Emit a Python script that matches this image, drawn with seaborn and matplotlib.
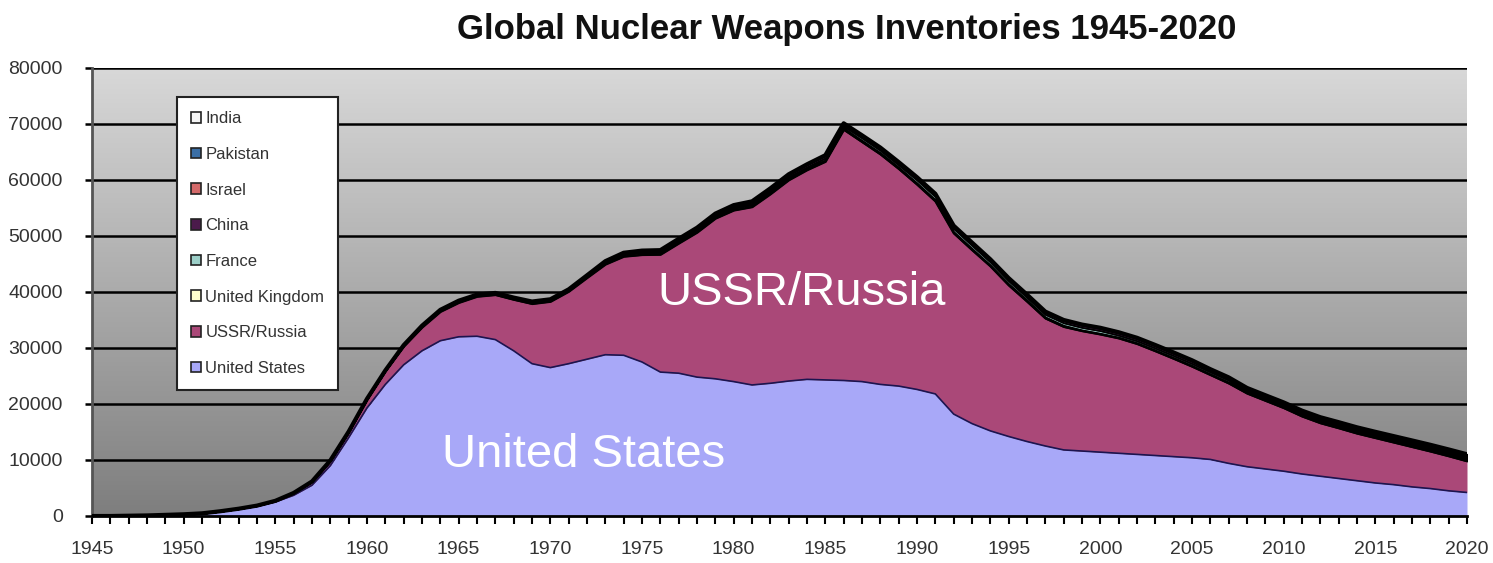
import numpy as np
import matplotlib
matplotlib.use("Agg")
import matplotlib.pyplot as plt
from matplotlib.patches import Patch
import seaborn as sns

years = list(range(1945, 2021))

us = [0, 0, 50, 100, 200, 300, 450, 800, 1200, 1700,
      2500, 3700, 5500, 9000, 14000, 19300, 23500, 27000, 29500, 31300,
      32000, 32100, 31500, 29500, 27200, 26500, 27200, 28000, 28800, 28700,
      27500, 25700, 25500, 24800, 24500, 24000, 23400, 23700, 24100, 24400,
      24300, 24200, 24000, 23500, 23200, 22600, 21800, 18200, 16500, 15200,
      14200, 13300, 12500, 11800, 11600, 11400, 11200, 11000, 10800, 10600,
      10400, 10100, 9400, 8800, 8400, 8000, 7500, 7100, 6700, 6300,
      5900, 5600, 5200, 4900, 4500, 4200]

ussr = [0, 0, 0, 0, 0, 5, 25, 50, 100, 150,
        200, 400, 650, 900, 1050, 1600, 2450, 3300, 4200, 5200,
        6100, 7100, 8000, 9150, 10700, 11800, 12900, 14550, 16150, 17650,
        19150, 21000, 23200, 25850, 28650, 30600, 31800, 33800, 35900, 37400,
        39000, 44800, 42800, 41100, 38800, 36600, 34400, 32300, 31000, 29400,
        27000, 25000, 22800, 22000, 21450, 21050, 20550, 19750, 18650, 17500,
        16300, 15100, 14300, 13100, 12200, 11300, 10300, 9500, 9000, 8450,
        8050, 7550, 7150, 6650, 6200, 5600]

uk = [0] * 8 + [1, 5, 10, 15, 20, 22, 25, 30, 50, 205,
                280, 310, 310, 270, 270, 280, 308, 280, 220, 220,
                275, 325, 350, 350, 350, 350, 350, 350, 350, 335,
                320, 270, 300, 300, 300, 300, 300, 300, 300, 300,
                300, 250, 300, 300, 260, 260, 185, 185, 200, 200,
                200, 200, 200, 200, 225, 225, 225, 225, 225, 225,
                225, 225, 215, 215, 215, 215, 215, 215]

france = [0] * 19 + [4, 32, 36, 36, 36, 36, 36, 45, 70, 116,
                     145, 188, 212, 228, 235, 235, 250, 274, 274, 279,
                     280, 360, 355, 420, 411, 412, 504, 538, 540, 525,
                     510, 500, 450, 450, 450, 450, 470, 350, 350, 350,
                     350, 350, 350, 350, 300, 300, 300, 300, 300, 300,
                     300, 300, 300, 300, 300, 290, 290]

china = [0] * 19 + [1, 5, 20, 25, 35, 50, 75, 100, 130, 150,
                    170, 185, 190, 200, 220, 235, 280, 330, 360, 380,
                    414, 426, 423, 415, 430, 434, 432, 434, 434, 434,
                    400, 400, 400, 400, 400, 400, 400, 400, 400, 400,
                    400, 400, 300, 300, 250, 240, 240, 240, 250, 250,
                    260, 260, 270, 280, 290, 300, 320]

israel = [0] * 22 + [2, 4, 6, 8, 10, 12, 14, 16, 18, 20,
                     22, 24, 27, 31, 33, 35, 38, 40, 42, 44,
                     46, 48, 50, 53, 55, 57, 59, 61, 62, 63,
                     65, 67, 70, 71, 72, 74, 76, 78, 80, 80,
                     80, 80, 80, 80, 80, 80, 80, 80, 80, 80,
                     80, 80, 90, 90]

pakistan = [0] * 41 + [1, 2, 3, 4, 5, 6, 7, 8, 9, 10,
                       11, 12, 13, 15, 17, 20, 25, 30, 35, 40,
                       45, 50, 60, 65, 70, 90, 100, 110, 120, 120,
                       130, 140, 145, 150, 160]

india = [0] * 29 + [1, 1, 1, 1, 1, 1, 1, 1, 1, 1,
                    1, 1, 1, 2, 3, 4, 5, 6, 7, 8,
                    9, 10, 11, 12, 13, 14, 15, 20, 25, 30,
                    35, 40, 45, 50, 55, 60, 70, 80, 85, 90,
                    100, 110, 120, 130, 135, 140, 150]

countries = ["United States", "USSR/Russia", "United Kingdom", "France",
             "China", "Israel", "Pakistan", "India"]
series = [us, ussr, uk, france, china, israel, pakistan, india]
colors = ["#a8a8f8", "#aa4878", "#ffffcc", "#9ccfc8", "#4b1b4b",
          "#d46a6a", "#3a6ea5", "#f4f4f4"]

x_ticks = list(range(1945, 2021, 5))
y_ticks = list(range(0, 80001, 10000))

sns.set_style("white")
plt.rcParams["font.family"] = ["Liberation Sans", "DejaVu Sans"]

fig = plt.figure(figsize=(14.93, 5.63), dpi=100)
ax = fig.add_axes([92 / 1493, 1 - 516 / 563, 1375 / 1493, 448 / 563])

# background gradient: light at top, darker at bottom
grad = np.linspace(0, 1, 256).reshape(-1, 1)
cmap = matplotlib.colors.LinearSegmentedColormap.from_list("bg", ["#d8d8d8", "#7e7e7e"])
ax.imshow(grad, aspect="auto", cmap=cmap, extent=[1945, 2020, 0, 80000],
          zorder=0, origin="upper")

arr = np.array(series, dtype=float)
polys = ax.stackplot(years, arr, colors=colors, zorder=2, linewidth=0)
for i, p in enumerate(polys):
    if i >= 2:
        p.set_edgecolor("black")
        p.set_linewidth(1.2)

cum = np.cumsum(arr, axis=0)
sns.lineplot(x=years, y=cum[0], color="#1c1450", lw=1.2, ax=ax, zorder=3)
sns.lineplot(x=years, y=cum[1], color="black", lw=1.5, ax=ax, zorder=3)
sns.lineplot(x=years, y=cum[-1], color="black", lw=3.0, ax=ax, zorder=4)

ax.set_xlim(1945, 2020)
ax.set_ylim(0, 80000)
ax.set_xticks(x_ticks)
ax.set_xticks(years, minor=True)
ax.set_yticks(y_ticks)
ax.set_xticklabels([str(v) for v in x_ticks])
ax.set_yticklabels([str(v) for v in y_ticks])
ax.set_xlabel("")
ax.set_ylabel("")

ax.set_axisbelow(True)
ax.yaxis.grid(True, color="black", lw=1.8, zorder=1)
ax.xaxis.grid(False)

for s in ["top", "right"]:
    ax.spines[s].set_visible(False)
ax.spines["left"].set_color("#555555")
ax.spines["left"].set_linewidth(2.0)
ax.spines["bottom"].set_color("black")
ax.spines["bottom"].set_linewidth(2.0)
ax.spines["bottom"].set_zorder(5)

ax.tick_params(axis="x", which="both", direction="out", length=6, width=1.5,
               color="black", labelsize=14, labelcolor="#333333", pad=12,
               bottom=True)
ax.tick_params(axis="y", which="major", direction="out", length=5, width=1.8,
               color="black", labelsize=14, labelcolor="#333333", pad=16,
               left=True)

ax.text(1983.7, 39800, "USSR/Russia", color="white", fontsize=34,
        ha="center", va="center", zorder=6)
ax.text(1971.8, 10900, "United States", color="white", fontsize=34,
        ha="center", va="center", zorder=6)

fig.text(0.567, 0.948, "Global Nuclear Weapons Inventories 1945-2020",
         ha="center", va="center", fontsize=25, fontweight="bold",
         color="#111111")

handles = [Patch(facecolor=c, edgecolor="#222222", lw=1.2, label=n)
           for n, c in zip(countries, colors)][::-1]
leg = ax.legend(handles=handles, loc="upper left",
                bbox_to_anchor=(0.0618, 0.935), frameon=True, fancybox=False,
                edgecolor="#222222", framealpha=1.0, facecolor="white",
                fontsize=12, handlelength=0.6, handleheight=0.6,
                handletextpad=0.25, labelspacing=1.24, borderpad=0.85,
                borderaxespad=0.0)
leg.get_frame().set_linewidth(1.5)
for t in leg.get_texts():
    t.set_color("#333333")
leg.set_zorder(7)

fig.savefig("out.png", dpi=100)
